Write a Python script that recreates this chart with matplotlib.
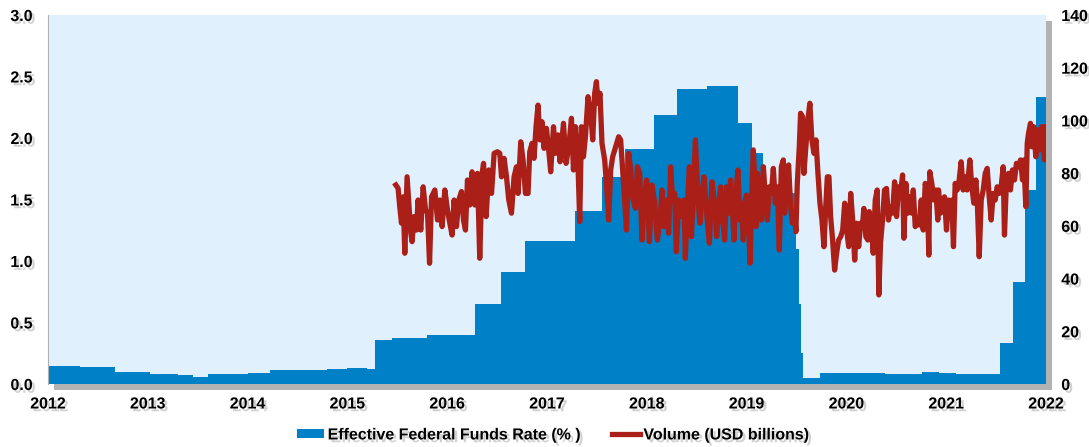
import matplotlib
matplotlib.use('Agg')
import matplotlib.pyplot as plt
import matplotlib.patheffects as pe
from matplotlib.patches import Patch
from matplotlib.lines import Line2D

# effective federal funds rate (%), step breakpoints
rate_years = [2012.0, 2012.32, 2012.67, 2013.02, 2013.3, 2013.45, 2013.6, 2014.0,
              2014.22, 2014.8, 2015.0, 2015.2, 2015.28, 2015.45, 2015.8, 2016.28,
              2016.54, 2016.78, 2017.28, 2017.55, 2017.78, 2018.07, 2018.30, 2018.6,
              2018.91, 2019.05, 2019.16, 2019.50, 2019.53, 2019.55, 2019.57, 2019.74,
              2020.39, 2020.65, 2020.76, 2020.93, 2021.1, 2021.54, 2021.67, 2021.785,
              2021.90, 2022.0]
rate_values = [0.15, 0.14, 0.10, 0.08, 0.07, 0.06, 0.08, 0.09,
               0.11, 0.12, 0.13, 0.12, 0.36, 0.37, 0.40, 0.65,
               0.91, 1.16, 1.41, 1.68, 1.91, 2.19, 2.40, 2.42,
               2.12, 1.88, 1.55, 1.10, 0.65, 0.25, 0.05, 0.09,
               0.08, 0.08, 0.10, 0.09, 0.08, 0.33, 0.83, 1.58,
               2.33, 2.33]

# volume (USD billions)
vol_years = [2015.485, 2015.508, 2015.525, 2015.542, 2015.558, 2015.575, 2015.598, 2015.615,
             2015.635, 2015.648, 2015.668, 2015.692, 2015.708, 2015.735, 2015.759, 2015.783,
             2015.803, 2015.823, 2015.843, 2015.876, 2015.903, 2015.926, 2015.949, 2015.976,
             2016.003, 2016.026, 2016.049, 2016.069, 2016.093, 2016.116, 2016.143, 2016.163,
             2016.183, 2016.203, 2016.226, 2016.249, 2016.276, 2016.303, 2016.326, 2016.350,
             2016.364, 2016.390, 2016.417, 2016.444, 2016.470, 2016.504, 2016.527, 2016.544,
             2016.570, 2016.594, 2016.617, 2016.644, 2016.670, 2016.694, 2016.710, 2016.737,
             2016.760, 2016.784, 2016.810, 2016.827, 2016.850, 2016.870, 2016.890, 2016.910,
             2016.930, 2016.950, 2016.970, 2016.994, 2017.017, 2017.037, 2017.065, 2017.085,
             2017.111, 2017.131, 2017.165, 2017.191, 2017.218, 2017.245, 2017.265, 2017.285,
             2017.311, 2017.328, 2017.345, 2017.365, 2017.385, 2017.411, 2017.438, 2017.458,
             2017.478, 2017.495, 2017.511, 2017.531, 2017.551, 2017.578, 2017.595, 2017.618,
             2017.638, 2017.658, 2017.678, 2017.698, 2017.718, 2017.738, 2017.758, 2017.778,
             2017.796, 2017.819, 2017.839, 2017.862, 2017.886, 2017.906, 2017.929, 2017.952,
             2017.972, 2017.999, 2018.026, 2018.052, 2018.079, 2018.106, 2018.132, 2018.152,
             2018.172, 2018.199, 2018.219, 2018.239, 2018.259, 2018.279, 2018.296, 2018.319,
             2018.346, 2018.373, 2018.386, 2018.406, 2018.427, 2018.447, 2018.467, 2018.487,
             2018.513, 2018.533, 2018.553, 2018.573, 2018.600, 2018.627, 2018.653, 2018.680,
             2018.700, 2018.720, 2018.740, 2018.760, 2018.780, 2018.800, 2018.820, 2018.840,
             2018.860, 2018.873, 2018.893, 2018.913, 2018.933, 2018.947, 2018.967, 2018.987,
             2019.000, 2019.014, 2019.034, 2019.054, 2019.067, 2019.081, 2019.094, 2019.108,
             2019.128, 2019.148, 2019.168, 2019.188, 2019.208, 2019.228, 2019.248, 2019.268,
             2019.288, 2019.308, 2019.328, 2019.348, 2019.368, 2019.381, 2019.401, 2019.421,
             2019.441, 2019.461, 2019.481, 2019.494, 2019.508, 2019.528, 2019.541, 2019.561,
             2019.574, 2019.594, 2019.614, 2019.634, 2019.654, 2019.675, 2019.695, 2019.715,
             2019.735, 2019.755, 2019.775, 2019.795, 2019.809, 2019.825, 2019.842, 2019.862,
             2019.882, 2019.902, 2019.922, 2019.943, 2019.963, 2019.983, 2020.003, 2020.023,
             2020.043, 2020.063, 2020.083, 2020.103, 2020.123, 2020.143, 2020.163, 2020.175,
             2020.195, 2020.215, 2020.229, 2020.249, 2020.269, 2020.289, 2020.309, 2020.325,
             2020.342, 2020.362, 2020.382, 2020.402, 2020.422, 2020.443, 2020.463, 2020.483,
             2020.503, 2020.523, 2020.543, 2020.563, 2020.576, 2020.596, 2020.616, 2020.636,
             2020.656, 2020.670, 2020.690, 2020.710, 2020.730, 2020.750, 2020.770, 2020.790,
             2020.810, 2020.826, 2020.836, 2020.856, 2020.876, 2020.896, 2020.916, 2020.923,
             2020.943, 2020.963, 2020.983, 2021.003, 2021.023, 2021.043, 2021.056, 2021.073,
             2021.090, 2021.110, 2021.130, 2021.150, 2021.170, 2021.190, 2021.210, 2021.237,
             2021.257, 2021.277, 2021.297, 2021.311, 2021.331, 2021.351, 2021.371, 2021.391,
             2021.411, 2021.431, 2021.451, 2021.471, 2021.491, 2021.511, 2021.531, 2021.551,
             2021.571, 2021.584, 2021.604, 2021.624, 2021.644, 2021.664, 2021.684, 2021.704,
             2021.725, 2021.745, 2021.765, 2021.778, 2021.798, 2021.812, 2021.825, 2021.845,
             2021.858, 2021.878, 2021.898, 2021.918, 2021.938, 2021.958, 2021.985, 2021.995]
vol_values = [75.5, 74.2, 67.0, 61.0, 71.0, 49.6, 78.6, 68.7,
              57.3, 54.0, 63.5, 58.4, 69.8, 58.4, 74.8, 66.0,
              64.8, 45.8, 71.0, 73.6, 62.2, 69.8, 59.7, 73.6,
              66.0, 61.0, 56.5, 69.8, 59.7, 69.8, 73.0, 62.2,
              58.4, 77.4, 67.9, 80.5, 67.9, 79.9, 47.7, 79.9,
              83.7, 63.5, 81.2, 72.3, 87.5, 88.1, 87.5, 78.6,
              85.6, 78.6, 69.8, 64.8, 78.6, 82.4, 72.3, 91.9,
              85.0, 72.3, 72.3, 88.1, 91.3, 85.6, 97.6, 105.8,
              92.6, 99.5, 89.4, 97.0, 88.8, 80.5, 97.6, 87.5,
              94.5, 84.3, 98.9, 83.7, 90.0, 100.8, 81.2, 97.6,
              82.4, 61.6, 97.6, 86.2, 93.8, 109.0, 102.7, 92.6,
              110.3, 114.7, 106.5, 110.3, 91.3, 85.0, 76.1, 62.2,
              81.2, 86.2, 88.8, 91.3, 93.8, 92.6, 81.2, 69.8,
              58.4, 87.5, 81.2, 69.8, 66.7, 82.4, 79.9, 54.6,
              69.8, 77.4, 54.0, 75.5, 68.6, 54.6, 62.2, 73.6,
              59.7, 69.8, 57.2, 82.4, 69.8, 72.3, 50.2, 69.8,
              63.5, 69.8, 47.7, 67.3, 82.4, 55.9, 72.3, 92.6,
              69.8, 61.0, 72.3, 78.6, 64.8, 53.4, 76.7, 68.0,
              55.9, 67.3, 74.8, 62.2, 54.6, 74.8, 64.8, 77.4,
              64.8, 54.6, 72.3, 81.2, 62.2, 68.6, 54.6, 69.8,
              71.7, 67.3, 45.8, 73.6, 88.8, 77.4, 59.7, 79.9,
              67.3, 62.2, 82.4, 71.0, 62.2, 74.8, 72.3, 81.8,
              68.6, 74.8, 50.8, 82.4, 85.0, 64.8, 77.4, 83.1,
              67.3, 61.0, 64.8, 57.8, 76.1, 90.0, 102.7, 101.4,
              79.9, 90.0, 100.2, 106.5, 92.6, 87.5, 92.6, 79.9,
              68.6, 62.2, 52.1, 68.6, 78.6, 78.6, 63.5, 54.6,
              43.2, 49.6, 54.6, 55.9, 58.4, 68.6, 58.4, 52.1,
              72.3, 62.2, 47.0, 61.0, 52.1, 61.0, 61.0, 66.6,
              55.9, 54.6, 65.4, 60.3, 49.6, 69.8, 73.6, 33.8,
              53.4, 62.2, 73.6, 74.2, 62.2, 67.3, 64.8, 76.7,
              63.5, 74.8, 72.3, 79.3, 55.3, 76.1, 64.8, 71.0,
              64.8, 73.6, 59.7, 62.2, 60.3, 69.8, 58.4, 76.1,
              72.3, 48.9, 80.5, 76.1, 69.8, 73.6, 62.2, 73.6,
              64.8, 69.8, 71.0, 58.4, 69.8, 64.8, 69.8, 52.1,
              76.1, 73.6, 77.4, 84.3, 73.6, 78.6, 73.6, 85.0,
              74.8, 68.6, 77.4, 69.8, 48.3, 69.8, 73.6, 79.9,
              81.8, 71.0, 62.2, 72.3, 69.8, 74.8, 72.3, 74.8,
              82.4, 56.5, 77.4, 79.9, 73.6, 81.2, 77.4, 83.7,
              82.4, 85.0, 77.4, 85.0, 67.3, 91.3, 95.1, 98.9,
              90.0, 97.6, 86.2, 96.4, 88.8, 97.6, 85.0, 97.6]

year_ticks = [2012, 2013, 2014, 2015, 2016, 2017, 2018, 2019, 2020, 2021, 2022]
rate_ticks = [0.0, 0.5, 1.0, 1.5, 2.0, 2.5, 3.0]
vol_ticks = [0, 20, 40, 60, 80, 100, 120, 140]

blue = '#0080c6'
red = '#aa2018'
shadow = [pe.withSimplePatchShadow(offset=(2, -2), shadow_rgbFace='#9a9a9a', alpha=0.45)]

plt.rcParams['font.family'] = ['Liberation Sans', 'DejaVu Sans']
plt.rcParams['font.weight'] = 'bold'

fig = plt.figure(figsize=(10.89, 4.47), dpi=100)
ax = fig.add_axes([0.0441, 0.141, 0.9164, 0.8255])
ax.set_facecolor('#e0f1fd')
ax.patch.set_path_effects([pe.SimplePatchShadow(offset=(4, -4), shadow_rgbFace='#666666', alpha=0.5),
                           pe.Normal()])

ax.fill_between(rate_years, rate_values, 0, step='post', color=blue, lw=0)
ax.set_xlim(2012, 2022)
ax.set_ylim(0, 3.0)
ax.set_xticks(year_ticks)
ax.set_xticklabels([str(y) for y in year_ticks])
ax.set_yticks(rate_ticks)
ax.set_yticklabels([f'{v:.1f}' for v in rate_ticks])

ax2 = ax.twinx()
ax2.plot(vol_years, vol_values, color=red, lw=3.8, solid_joinstyle='round')
ax2.set_ylim(0, 140)
ax2.set_yticks(vol_ticks)
ax2.set_yticklabels([str(v) for v in vol_ticks])

for a in (ax, ax2):
    for s in a.spines.values():
        s.set_visible(False)
    a.tick_params(length=0, labelsize=11.5)
ax.spines['left'].set_visible(True)
ax.spines['left'].set_color('#b0b0b0')
ax.spines['left'].set_linewidth(0.8)
ax.tick_params(axis='y', pad=11)
ax.tick_params(axis='x', pad=9)
ax2.tick_params(axis='y', pad=11)

for lab in ax.get_xticklabels() + ax.get_yticklabels() + ax2.get_yticklabels():
    lab.set_path_effects(shadow)

handles = [Patch(facecolor=blue, edgecolor='none'),
           Line2D([0], [0], color=red, lw=3.8)]
leg = fig.legend(handles, ['Effective Federal Funds Rate (% )', 'Volume (USD billions)'],
                 loc='center', bbox_to_anchor=(0.508, 0.027), ncol=2, frameon=False,
                 fontsize=11.5, handlelength=1.75, handleheight=0.5, handletextpad=0.2,
                 columnspacing=1.9)
for t in leg.get_texts():
    t.set_path_effects(shadow)

fig.savefig('out.png', dpi=100)
